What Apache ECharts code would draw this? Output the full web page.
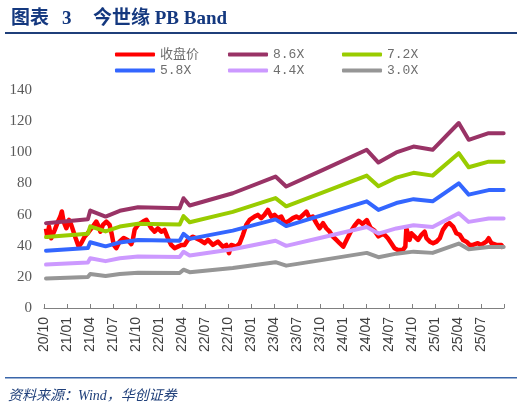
<!DOCTYPE html>
<html><head><meta charset="utf-8">
<script src="https://cdn.jsdelivr.net/npm/echarts@6/dist/echarts.min.js"></script>
<style>html,body{margin:0;padding:0;background:#fff}#c{width:524px;height:413px}</style>
</head><body><div id="c"></div>
<script>
// ---- data ----
const xTickLabels = ['20/10','21/01','21/04','21/07','21/10','22/01','22/04','22/07','22/10','23/01','23/04','23/07','23/10','24/01','24/04','24/07','24/10','25/01','25/04','25/07'];

const priceDates = ['2020-10-09','2020-10-14','2020-10-21','2020-10-30','2020-11-13','2020-11-26','2020-12-05','2020-12-11','2020-12-18','2020-12-29',
'2021-01-09','2021-01-18','2021-01-25','2021-02-05','2021-02-17','2021-02-27','2021-03-10','2021-03-17','2021-03-27','2021-04-12',
'2021-04-26','2021-05-02','2021-05-12','2021-05-22','2021-06-05','2021-06-18','2021-06-27','2021-07-04','2021-07-14','2021-07-27',
'2021-08-13','2021-08-30','2021-09-13','2021-09-19','2021-09-26','2021-10-09','2021-10-29','2021-11-12','2021-11-18','2021-12-01',
'2021-12-14','2021-12-27','2022-01-10','2022-01-23','2022-02-06','2022-02-19','2022-03-02','2022-03-15','2022-03-29','2022-04-11',
'2022-04-24','2022-05-14','2022-05-21','2022-06-10','2022-06-30','2022-07-13','2022-08-02','2022-08-22','2022-09-11','2022-09-25',
'2022-10-05','2022-10-14','2022-11-04','2022-11-17','2022-11-30','2022-12-13','2022-12-26','2023-01-15','2023-01-28','2023-02-11',
'2023-02-24','2023-03-07','2023-03-21','2023-04-03','2023-04-16','2023-04-30','2023-05-13','2023-05-26','2023-06-15','2023-06-29',
'2023-07-11','2023-07-25','2023-08-08','2023-08-21','2023-09-03','2023-09-17','2023-09-30','2023-10-13','2023-10-26','2023-11-09',
'2023-11-22','2023-12-05','2023-12-18','2024-01-02','2024-01-16','2024-02-01','2024-02-17','2024-03-02','2024-03-18','2024-04-04',
'2024-04-19','2024-05-05','2024-05-20','2024-06-06','2024-06-14','2024-06-27','2024-07-10','2024-07-23','2024-08-06','2024-08-26',
'2024-09-05','2024-09-09','2024-09-15','2024-09-22','2024-09-29','2024-10-12','2024-10-25','2024-11-08','2024-11-21','2024-11-28',
'2024-12-11','2024-12-24','2025-01-07','2025-01-20','2025-02-02','2025-02-16','2025-02-28','2025-03-12','2025-03-25','2025-04-08',
'2025-04-21','2025-05-04','2025-05-17','2025-05-30','2025-06-19','2025-07-02','2025-07-22','2025-08-01','2025-08-12','2025-09-01',
'2025-09-21','2025-09-30'];
const priceValues = [51.0,45.8,52.3,44.8,50.0,55.5,58.7,62.0,55.5,51.2,
56.6,53.4,54.5,44.8,39.4,41.6,45.8,44.8,49.0,52.3,
55.5,53.4,49.0,53.4,55.5,53.4,47.0,40.5,38.4,42.6,
45.0,43.5,41.0,44.0,50.2,53.4,55.5,56.6,55.5,51.2,
49.0,51.2,49.0,50.2,44.8,40.5,38.4,39.4,40.5,40.5,
43.7,45.8,47.0,43.7,41.6,43.7,40.5,42.6,39.4,40.5,
35.2,40.5,39.4,41.6,47.0,53.4,56.6,58.7,59.8,57.7,
59.8,63.0,58.7,59.8,57.7,58.7,54.5,55.5,57.7,58.7,
57.7,59.8,61.9,57.7,58.7,54.5,51.2,54.5,51.2,49.0,
45.8,43.7,41.6,39.4,44.0,49.0,53.0,56.0,54.0,56.5,
51.5,49.5,46.0,47.5,47.0,44.8,41.6,38.4,37.3,37.3,
39.4,51.2,50.2,43.7,48.0,45.8,43.7,47.0,49.0,44.8,
42.6,41.6,42.6,44.8,50.2,53.4,54.5,52.3,48.0,47.0,
43.7,42.6,40.5,40.5,41.6,40.5,42.6,44.8,41.6,40.5,
40.5,38.4];

const bandDates = ['2020-10-09','2021-03-23','2021-04-02','2021-06-02','2021-07-28','2021-10-09','2022-03-22','2022-04-07','2022-05-01','2022-10-20','2023-04-07','2023-05-19','2023-10-13','2024-04-04','2024-05-20','2024-07-30','2024-10-07','2024-12-22','2025-04-04','2025-05-13','2025-08-01','2025-09-30'];
const band86 = [54.5,57.0,62.6,58.7,62.4,64.7,64.1,70.5,65.8,73.7,84.4,78.0,88.7,101.6,93.4,99.9,103.7,101.6,118.8,108.0,112.3,112.3];
const band72 = [45.6,47.7,52.4,49.2,52.3,54.1,53.6,59.0,55.1,61.7,70.6,65.3,74.2,85.0,78.2,83.7,86.8,85.0,99.4,90.4,94.0,94.0];
const band58 = [36.8,38.5,42.2,39.6,42.1,43.6,43.2,47.6,44.4,49.7,56.9,52.6,59.8,68.5,63.0,67.4,69.9,68.5,80.1,72.8,75.7,75.7];
const band44 = [27.9,29.2,32.0,30.1,31.9,33.1,32.8,36.1,33.7,37.7,43.2,39.9,45.4,52.0,47.8,51.1,53.1,52.0,60.8,55.3,57.5,57.5];
const band30 = [19.0,19.9,21.8,20.5,21.8,22.6,22.4,24.6,23.0,25.7,29.4,27.2,30.9,35.4,32.6,34.9,36.2,35.4,41.4,37.7,39.2,39.2];

const seriesNames = ['收盘价','8.6X','7.2X','5.8X','4.4X','3.0X'];
const seriesColors = ['#FF0000','#993366','#99CC00','#3366FF','#CC99FF','#969696'];

// ---- helpers ----
function toIdx(s){
  const p = s.split('-').map(Number);
  return (p[0]-2020)*12 + (p[1]-10) + (p[2]-1)/30.5;
}
function pairs(dates, vals){
  const n = Math.min(dates.length, vals.length), out = [];
  for (let i=0;i<n;i++) out.push([toIdx(dates[i]), vals[i]]);
  return out;
}

const bandVals = [band86, band72, band58, band44, band30];
const series = [{
  name: seriesNames[0], type:'line', data: pairs(priceDates, priceValues),
  symbol:'none', lineStyle:{width:4.5, color:seriesColors[0], join:'round'},
  itemStyle:{color:seriesColors[0]}, z:2
}];
bandVals.forEach((b,i)=>{
  series.push({
    name: seriesNames[i+1], type:'line', data: pairs(bandDates, b),
    symbol:'none', lineStyle:{width:4, color:seriesColors[i+1], cap:'round', join:'round'},
    itemStyle:{color:seriesColors[i+1]}, z:3
  });
});

const legendText = {fontSize:13, color:'#6E6E6E', fontFamily:"'Liberation Mono','Noto Sans CJK SC',monospace"};
function mkLegend(names, left){
  return {data:names, left:left, top:43, orient:'vertical', itemGap:3, itemWidth:40, itemHeight:4,
    icon:'roundRect', textStyle:legendText, selectedMode:false};
}

const titleFont = {fontSize:19, fontWeight:'bold', color:'#14387F', fontFamily:"'Liberation Serif','Noto Sans CJK SC',serif"};
const chart = echarts.init(document.getElementById('c'));
chart.setOption({
  animation:false,
  backgroundColor:'#fff',
  title:[
    {text:'图表', left:6, top:5, textStyle:titleFont},
    {text:'3', left:57, top:5, textStyle:titleFont},
    {text:'今世缘 PB Band', left:88, top:5, textStyle:titleFont}
  ],
  legend:[
    mkLegend([seriesNames[0], seriesNames[3]], 110),
    mkLegend([seriesNames[1], seriesNames[4]], 223),
    mkLegend([seriesNames[2], seriesNames[5]], 337)
  ],
  grid:{left:44, right:20, top:90, bottom:105, containLabel:false},
  xAxis:{
    type:'value', min:0, max:60, interval:3,
    axisLine:{show:true, lineStyle:{color:'#808080', width:1}},
    axisTick:{show:true, inside:true, length:4, lineStyle:{color:'#808080'}},
    splitLine:{show:false},
    axisLabel:{rotate:90, margin:9, fontSize:14, color:'#404040', fontFamily:"'Liberation Sans',Arial,sans-serif",
      formatter:function(v){ const k=Math.round(v/3); return xTickLabels[k] || ''; }}
  },
  yAxis:{
    type:'value', min:0, max:140, interval:20,
    axisLine:{show:false}, axisTick:{show:false}, splitLine:{show:false},
    axisLabel:{margin:12, fontSize:15, color:'#595959', fontFamily:"'Liberation Serif','Times New Roman',serif"}
  },
  graphic:[
    {type:'rect', shape:{x:5, y:32, width:512, height:2}, style:{fill:'#1F3F7A'}, silent:true},
    {type:'rect', shape:{x:5, y:377, width:512, height:1.5}, style:{fill:'#3A66AA'}, silent:true},
    {type:'text', left:8, top:389, style:{text:'资料来源：Wind，华创证券', fontSize:14, fontStyle:'italic', fill:'#1F3F7A', fontFamily:"'Liberation Serif','Noto Sans CJK SC',serif"}}
  ],
  series: series
});
</script>
</body></html>
